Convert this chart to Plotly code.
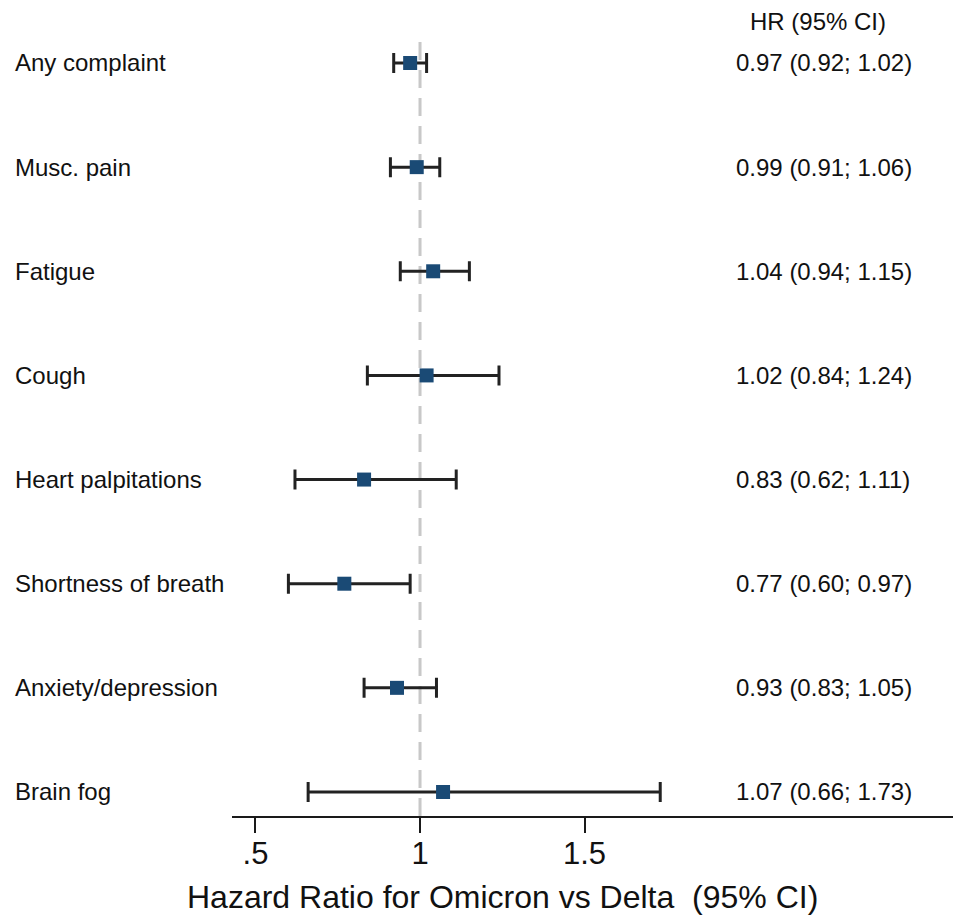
import plotly.graph_objects as go

categories = ["Any complaint", "Musc. pain", "Fatigue", "Cough", "Heart palpitations",
              "Shortness of breath", "Anxiety/depression", "Brain fog"]
hr = [0.97, 0.99, 1.04, 1.02, 0.83, 0.77, 0.93, 1.07]
lo = [0.92, 0.91, 0.94, 0.84, 0.62, 0.60, 0.83, 0.66]
hi = [1.02, 1.06, 1.15, 1.24, 1.11, 0.97, 1.05, 1.73]
tick_vals = [0.5, 1, 1.5]
tick_text = [".5", "1", "1.5"]
x_title = "Hazard Ratio for Omicron vs Delta  (95% CI)"

n = len(categories)
ypos = [n - i for i in range(n)]  # top row highest

FONT = "Liberation Sans, Arial, Helvetica, sans-serif"
# the page body has an 8px default margin, so the figure is 8px smaller
W, H = 953, 907
L, R, T, B = 224, 1, 0, 99
plot_w = W - L - R
plot_h = H - T - B
ROW_PX = 104.14

fig = go.Figure()

fig.add_trace(go.Scatter(
    x=hr, y=ypos, mode="markers",
    marker=dict(symbol="square", size=14, color="#1a4a75", line=dict(width=0)),
    error_x=dict(type="data", symmetric=False,
                 array=[h - m for h, m in zip(hi, hr)],
                 arrayminus=[m - l for m, l in zip(hr, lo)],
                 color="#222222", thickness=3, width=10),
    showlegend=False, hoverinfo="skip",
))

# reference line at HR = 1
fig.add_shape(type="line", x0=1, x1=1, xref="x", yref="y", y0=0.7695, y1=8.24,
              line=dict(color="#c8c8c8", width=3, dash="18px,10px"), layer="below")

# row labels
for c, y in zip(categories, ypos):
    fig.add_annotation(x=(5 - L) / plot_w, xref="paper", y=y, yref="y", text=c,
                       showarrow=False, xanchor="left", yanchor="middle",
                       font=dict(family=FONT, size=24, color="#111111"))

# HR text column
for h, l, u, y in zip(hr, lo, hi, ypos):
    fig.add_annotation(x=(726 - L) / plot_w, xref="paper", y=y, yref="y",
                       text=f"{h:.2f} ({l:.2f}; {u:.2f})",
                       showarrow=False, xanchor="left", yanchor="middle",
                       font=dict(family=FONT, size=24, color="#111111"))

fig.add_annotation(x=(810 - L) / plot_w, xref="paper", y=ypos[0] + (63 - 22) / ROW_PX, yref="y",
                   text="HR (95% CI)", showarrow=False, xanchor="center", yanchor="middle",
                   font=dict(family=FONT, size=24, color="#111111"))

# x-axis title (centred under the plotted region, not the whole axis)
fig.add_annotation(x=(494 - L) / plot_w, xref="paper", y=-(889 - plot_h) / plot_h, yref="paper",
                   text=x_title, showarrow=False, xanchor="center", yanchor="middle",
                   font=dict(family=FONT, size=32, color="#111111"))

fig.update_xaxes(range=[0.4286, 2.641], tickvals=tick_vals, ticktext=tick_text,
                 showline=True, linecolor="#1a1a1a", linewidth=2,
                 ticks="outside", ticklen=15, tickwidth=2, tickcolor="#1a1a1a",
                 ticklabelstandoff=-6,
                 tickfont=dict(family=FONT, size=31, color="#111111"),
                 showgrid=False, zeroline=False)
fig.update_yaxes(range=[0.7695, 8.528], visible=False, showgrid=False, zeroline=False)

fig.update_layout(width=W, height=H, margin=dict(l=L, r=R, t=T, b=B),
                  paper_bgcolor="white", plot_bgcolor="white")

fig.write_html("out.html")
